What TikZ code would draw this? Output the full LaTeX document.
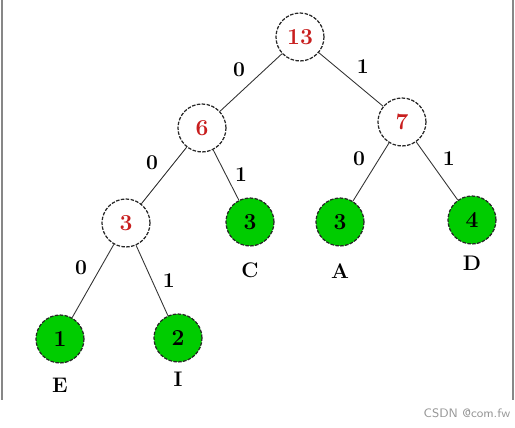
\documentclass[tikz,border=0pt]{standalone}
\usepackage{tikz}
\usetikzlibrary{positioning}
\definecolor{sumred}{RGB}{200, 30, 30}
\definecolor{leafgreen}{RGB}{0, 204, 0}
\definecolor{framegray}{RGB}{135, 135, 135}
\definecolor{markgray}{RGB}{150, 150, 150}

\begin{document}
\begin{tikzpicture}[
  x=0.02cm, y=-0.02cm,
  every node/.style={font=\bfseries\large},
  inode/.style={circle, draw=black!85, dash pattern=on 2pt off 0.8pt, line width=0.7pt,
                fill=white, minimum size=0.96cm, inner sep=0pt, text=sumred,
                font=\bfseries\fontsize{13}{15}\selectfont},
  lnode/.style={inode, fill=leafgreen, text=black},
  bit/.style={font=\bfseries\large, inner sep=1pt},
  edge/.style={draw=black!80, line width=0.5pt}
]
  \useasboundingbox (0,0) rectangle (515,428);
  \draw[framegray, line width=1pt] (2,0) -- (2,400);
  \draw[framegray, line width=1pt] (513,0) -- (513,400);

  % internal nodes
  \node[inode] (n13) at (300,37)  {13};
  \node[inode] (n6)  at (202,128) {6};
  \node[inode] (n7)  at (402,122) {7};
  \node[inode] (n3)  at (126,223) {3};
  % leaves
  \node[lnode] (C) at (250,222) {3};
  \node[lnode] (A) at (340,222) {3};
  \node[lnode] (D) at (472,220) {4};
  \node[lnode] (E) at (60,339)  {1};
  \node[lnode] (I) at (178,338) {2};

  % leaf names
  \node (Ctxt) at (250,270) {C};
  \node (Atxt) at (340,271) {A};
  \node (Dtxt) at (472,263) {D};
  \node (Etxt) at (60,385)  {E};
  \node (Itxt) at (178,379) {I};

  \draw[edge] (n13) -- node[bit, above left=3pt]  {0} (n6);
  \draw[edge] (n13) -- node[bit, above right=3pt] {1} (n7);
  \draw[edge] (n6)  -- node[bit, above left=3pt]  {0} (n3);
  \draw[edge] (n6)  -- node[bit, right=4pt]       {1} (C);
  \draw[edge] (n7)  -- node[bit, above left=3pt]  {0} (A);
  \draw[edge] (n7)  -- node[bit, above right=3pt] {1} (D);
  \draw[edge] (n3)  -- node[bit, above left=3pt]  {0} (E);
  \draw[edge] (n3)  -- node[bit, right=5pt]       {1} (I);

  \node[font=\sffamily\scriptsize, text=markgray] (mark) at (467,413) {CSDN @com.fw};
\end{tikzpicture}
\end{document}
